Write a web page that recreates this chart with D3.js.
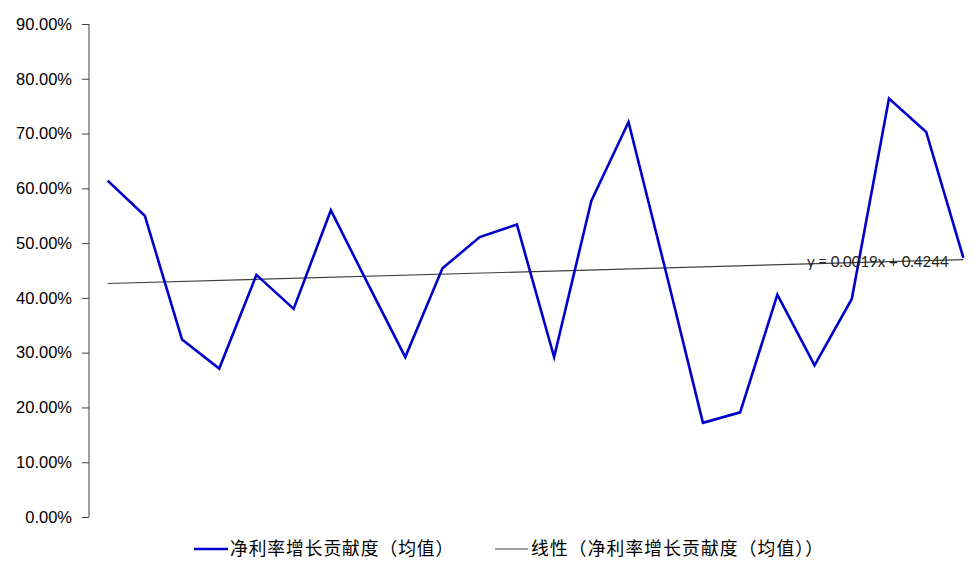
<!DOCTYPE html>
<html>
<head>
<meta charset="utf-8">
<script src="https://cdn.jsdelivr.net/npm/d3@7"></script>
<style>
body { margin: 0; background: #fff; }
</style>
</head>
<body>
<script>
"use strict";
// 净利率增长贡献度（均值），24 periods
const periods = d3.range(1, 25);
const values = [61.4, 55.0, 32.4, 27.1, 44.2, 38.0, 56.0, 42.5, 29.2, 45.4, 51.1, 53.4,
	29.2, 57.7, 72.1, 44.9, 17.2, 19.1, 40.6, 27.7, 39.8, 76.4, 70.3, 47.3];
const yTicks = [0, 10, 20, 30, 40, 50, 60, 70, 80, 90];
const trendSlope = 0.0019;
const trendIntercept = 0.4244;
const seriesName = "净利率增长贡献度（均值）";
const trendName = "线性（净利率增长贡献度（均值））";

const w = 972, h = 573;
const pl = 89, pr = 982, pt = 24, pb = 517;

const svg = d3.select("body").append("svg").attr("width", w).attr("height", h);

const x = d3.scaleBand().domain(periods).range([pl, pr]);
const cx = d => x(d) + x.bandwidth() / 2;
const y = d3.scaleLinear().domain([0, 90]).range([pb, pt]);

const yAxis = d3.axisLeft(y).tickValues(yTicks).tickSize(7).tickPadding(10)
	.tickFormat(d => d.toFixed(2) + "%");
const ga = svg.append("g").attr("transform", "translate(" + pl + ",0)").call(yAxis);
ga.select(".domain").attr("stroke", "#404040").attr("d", "M0," + pt + "V" + pb);
ga.selectAll(".tick line").attr("stroke", "#404040");
ga.selectAll(".tick text").attr("fill", "#000")
	.style("font-family", "'Liberation Sans', Arial, sans-serif").style("font-size", "16.5px");

// linear trend line
const trend = d => (trendIntercept + trendSlope * d) * 100;
svg.append("line")
	.attr("x1", cx(periods[0])).attr("y1", y(trend(periods[0])))
	.attr("x2", cx(periods[periods.length - 1])).attr("y2", y(trend(periods[periods.length - 1])))
	.attr("stroke", "#404040").attr("stroke-width", 1.2);

const line = d3.line().x((d, i) => cx(periods[i])).y(d => y(d));
svg.append("path").datum(values).attr("d", line)
	.attr("fill", "none").attr("stroke", "#0000cc").attr("stroke-width", 2.6)
	.attr("stroke-linejoin", "miter");

svg.append("text").attr("x", 807).attr("y", y(trend(periods[periods.length - 1])) + 7)
	.text("y = " + trendSlope + "x + " + trendIntercept)
	.attr("fill", "#222").style("font-family", "Lato, 'Open Sans', sans-serif").style("font-size", "15px");

// legend
const cjk = "'Noto Sans CJK SC', sans-serif";
const lg = svg.append("g");
lg.append("line").attr("x1", 194).attr("x2", 228).attr("y1", 549).attr("y2", 549)
	.attr("stroke", "#0000cc").attr("stroke-width", 2.6);
lg.append("text").attr("x", 230).attr("y", 555).text(seriesName)
	.style("font-family", cjk).style("font-size", "17.8px").style("letter-spacing", "0.9px").attr("fill", "#000");
lg.append("line").attr("x1", 495).attr("x2", 528).attr("y1", 549).attr("y2", 549)
	.attr("stroke", "#404040").attr("stroke-width", 1.2);
lg.append("text").attr("x", 531).attr("y", 555).text(trendName)
	.style("font-family", cjk).style("font-size", "17.8px").style("letter-spacing", "1.1px").attr("fill", "#000");
</script>
</body>
</html>
